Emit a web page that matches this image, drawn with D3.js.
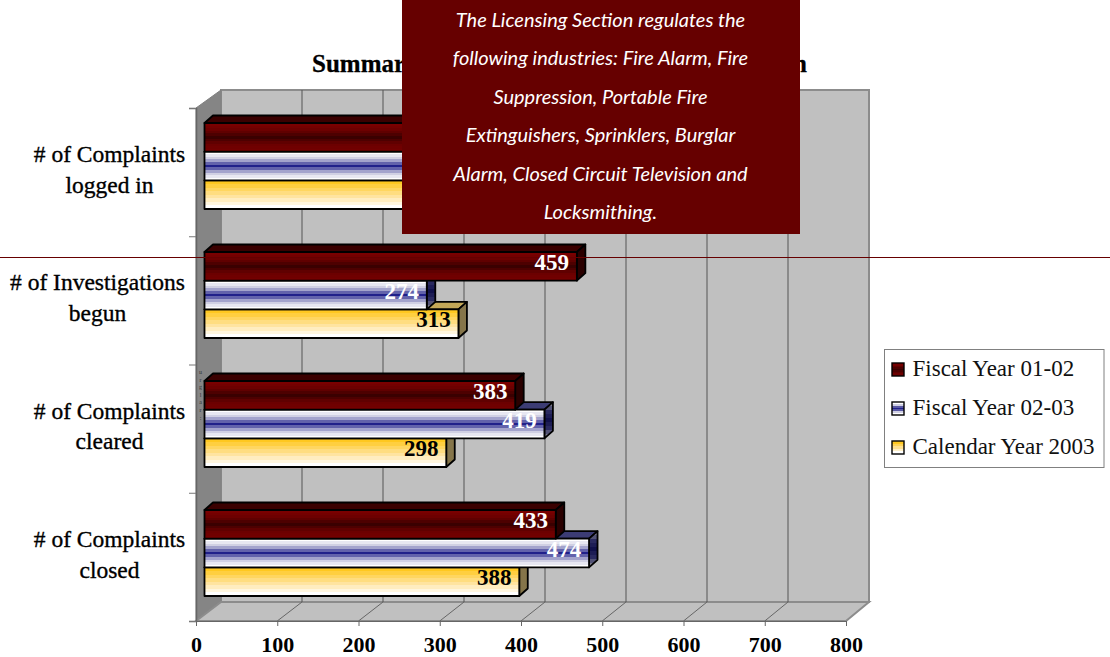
<!DOCTYPE html>
<html><head><meta charset="utf-8">
<script src="https://cdnjs.cloudflare.com/ajax/libs/d3/7.8.5/d3.min.js"></script>
<style>html,body{margin:0;padding:0;background:#fff}svg{display:block}</style>
</head><body><svg id="c" width="1110" height="657"></svg>
<script>
const categories = [["# of Complaints","logged in"],["# of Investigations","begun"],["# of Complaints","cleared"],["# of Complaints","closed"]];
const seriesNames = ["Fiscal Year 01-02","Fiscal Year 02-03","Calendar Year 2003"];
// The first category's bars end behind the text box; those three values are estimates.
const fy0102 = [560, 459, 383, 433];
const fy0203 = [520, 274, 419, 474];
const cy2003 = [480, 313, 298, 388];
const labelsVisible = [false, true, true, true];
const xTicks = [0,100,200,300,400,500,600,700,800];
const boxLines = ["The Licensing Section regulates the","following industries: Fire Alarm, Fire","Suppression, Portable Fire","Extinguishers, Sprinklers, Burglar","Alarm, Closed Circuit Television and","Locksmithing."];
const sideLetters = ["u","r","g","l","a","r",":"];
// Only the two ends of the title show; the box hides the rest.
const titleStart = "Summar";
const titleEnd = "n";

const seriesValues = [fy0102, fy0203, cy2003];
const svg = d3.select("#c");
const defs = svg.append("defs");
const SERIF = "'Liberation Serif','Times New Roman',serif";

// plot geometry
const depthX = 25, depthY = 19, front = {l:196, r:846, t:108, b:621};
const xFront = d3.scaleLinear().domain([0,800]).range([front.l, front.r]);
const xBack = d3.scaleLinear().domain([0,800]).range([front.l+depthX, front.r+depthX-2]);
const xBar = d3.scaleLinear().domain([0,800]).range([204.5, 853.5]);
const yCat = d3.scaleBand().domain(d3.range(4)).range([front.t, front.b]);
const yBand = d3.scaleBand().domain(d3.range(4)).range([108, 624]);
const ySer = d3.scaleBand().domain(d3.range(3)).range([15, 101]);
const barDX = 8.5, barDY = 7.5;

function bandGrad(id, colors, n){
  const g = defs.append("linearGradient").attr("id",id).attr("x1",0).attr("y1",0).attr("x2",0).attr("y2",1);
  const interp = d3.piecewise(d3.interpolateRgb, colors);
  for(let i=0;i<n;i++){
    const c = interp(i/(n-1));
    g.append("stop").attr("offset",i/n).attr("stop-color",c);
    g.append("stop").attr("offset",(i+1)/n).attr("stop-color",c);
  }
}
bandGrad("g0",["#7a0000","#6a0000","#3a0000","#6a0000","#740000"],11);
bandGrad("g1",["#ffffff","#c4c4dc","#20208a","#c4c4dc","#ffffff"],11);
bandGrad("g2",["#ffc820","#ffe090","#ffffff"],8);
bandGrad("s1",["#7a7a8a","#2a2a60","#10104a","#2a2a60","#7a7a8a"],9);
bandGrad("l0",["#8a0000","#600000","#3a0000","#600000","#7a0000"],9);
bandGrad("l1",["#ffffff","#d0d0e4","#5a5aa4","#20208a","#5a5aa4","#d0d0e4","#ffffff"],7);
bandGrad("l2",["#ffc820","#ffe090","#ffffff"],5);
const frontFill = ["url(#g0)","url(#g1)","url(#g2)"];
const topFill = ["#3a0000","#3c3c74","#c4a858"];
const sideFill = ["#2a0000","url(#s1)","#85754a"];
const legendFill = ["url(#l0)","url(#l1)","url(#l2)"];
const labelFill = ["#fff","#fff","#000"];

// walls
const wallStroke = "#8c8c8c";
svg.append("path").attr("fill","#c0c0c0").attr("stroke",wallStroke).attr("stroke-width",2)
  .attr("d",`M${xBack(0)},90H${xBack(800)}V602H${xBack(0)}Z`);
svg.append("path").attr("fill","#858585").attr("stroke","#808080")
  .attr("d",`M${xFront(0)},${front.t}L${xBack(0)},90V602L${xFront(0)},${front.b}Z`);
svg.append("path").attr("fill","#c0c0c0").attr("stroke",wallStroke).attr("stroke-width",2)
  .attr("d",`M${xFront(0)},${front.b}L${xBack(0)},602H${xBack(800)}L${xFront(800)},${front.b}Z`);

// gridlines
svg.append("g").selectAll("line").data(xTicks.slice(1,-1)).join("line")
  .attr("x1",d=>xBack(d)).attr("x2",d=>xBack(d)).attr("y1",90).attr("y2",602)
  .attr("stroke","#555").attr("stroke-width",1);
svg.append("g").selectAll("line").data(xTicks.slice(1,-1)).join("line")
  .attr("x1",d=>xBack(d)).attr("x2",d=>xFront(d)).attr("y1",602).attr("y2",front.b)
  .attr("stroke","#666").attr("stroke-width",1);

// stacked tiny letters on the side wall
svg.append("g").selectAll("text").data(sideLetters).join("text")
  .attr("x",200.5).attr("y",(d,i)=>374+i*7.6).attr("text-anchor","middle")
  .attr("font-family",SERIF).attr("font-size",6).attr("fill","#333").text(d=>d);

// axes
const axisB = svg.append("g").attr("transform",`translate(0,${front.b})`)
  .call(d3.axisBottom(xFront).tickValues(xTicks).tickSize(5).tickPadding(10).tickFormat(d3.format("d")));
axisB.select(".domain").attr("stroke","#666");
axisB.selectAll(".tick line").attr("stroke","#666");
axisB.selectAll("text").attr("font-family",SERIF).attr("font-weight","bold").attr("font-size",22).attr("fill","#000");

const axisL = svg.append("g").attr("transform",`translate(${front.l},0)`)
  .call(d3.axisLeft(d3.scaleLinear().domain([0,4]).range([front.b,front.t])).ticks(4).tickSize(7).tickFormat(""));
axisL.select(".domain").attr("stroke","#666").attr("stroke-width",1.5);
axisL.selectAll(".tick line").attr("stroke","#777");

// category labels
const catG = svg.append("g").selectAll("g").data(categories).join("g");
catG.each(function(lines,i){
  const cy = yCat(i)+yCat.bandwidth()/2;
  const w = i===1 ? 97.5 : 109.5;
  d3.select(this).selectAll("text").data(lines).join("text")
    .attr("x",w).attr("y",(d,k)=>cy-10+k*30.8)
    .attr("text-anchor","middle").attr("font-family",SERIF).attr("font-size",23.5)
    .attr("fill","#000").attr("stroke","#000").attr("stroke-width",0.35).text(d=>d);
});

// bars
const bars = svg.append("g");
categories.forEach((_,ci)=>{
  const g = bars.append("g").attr("transform",`translate(0,${yBand(ci)})`);
  [2,1,0].forEach(si=>{
    const v = seriesValues[si][ci];
    const x0 = xBar(0), x1 = xBar(v), y0 = ySer(si), y1 = y0+ySer.bandwidth();
    const st = sel => sel.attr("stroke","#000").attr("stroke-width",1.8).attr("stroke-linejoin","round");
    g.append("path").attr("fill",topFill[si]).call(st)
      .attr("d",`M${x0},${y0}L${x0+barDX},${y0-barDY}H${x1+barDX}L${x1},${y0}Z`);
    g.append("path").attr("fill",sideFill[si]).call(st)
      .attr("d",`M${x1},${y0}L${x1+barDX},${y0-barDY}V${y1-barDY}L${x1},${y1}Z`);
    g.append("rect").attr("fill",frontFill[si]).call(st)
      .attr("x",x0).attr("y",y0).attr("width",x1-x0).attr("height",y1-y0);
  });
});

// title
const titleAttrs = sel => sel.attr("y",72).attr("font-family",SERIF).attr("font-weight","bold")
  .attr("font-size",25).attr("fill","#000").attr("stroke","#000").attr("stroke-width",0.3);
svg.append("text").attr("x",312).call(titleAttrs).text(titleStart);
svg.append("text").attr("x",807).attr("text-anchor","end").call(titleAttrs).text(titleEnd);

// overlay line
svg.append("line").attr("x1",0).attr("x2",1110).attr("y1",257.5).attr("y2",257.5).attr("stroke","#660000").attr("stroke-width",1);

// value labels
const labels = svg.append("g");
categories.forEach((_,ci)=>{
  if(!labelsVisible[ci]) return;
  seriesValues.forEach((vals,si)=>{
    labels.append("text").attr("x",xBar(vals[ci])-25)
      .attr("y",yBand(ci)+ySer(si)+ySer.bandwidth()/2+3.5)
      .attr("text-anchor","middle").attr("font-family",SERIF).attr("font-weight","bold").attr("font-size",23)
      .attr("fill",labelFill[si]).text(vals[ci]);
  });
});

// legend
const lg = svg.append("g").attr("transform","translate(884.5,349.5)");
lg.append("rect").attr("width",219.5).attr("height",118).attr("fill","#fff").attr("stroke","#808080").attr("stroke-width",1);
const ly = d3.scalePoint().domain(d3.range(3)).range([19.5,97.5]);
seriesNames.forEach((n,i)=>{
  lg.append("rect").attr("x",7.5).attr("y",ly(i)-6).attr("width",12).attr("height",13)
    .attr("fill",legendFill[i]).attr("stroke","#000").attr("stroke-width",1.4);
  lg.append("text").attr("x",28).attr("y",ly(i)+7).attr("font-family",SERIF).attr("font-size",23).attr("fill","#111").text(n);
});

// text box
const box = svg.append("g");
box.append("rect").attr("x",402).attr("y",0).attr("width",398).attr("height",234).attr("fill","#660000");
const boxY = d3.scalePoint().domain(d3.range(boxLines.length)).range([27,219]);
box.selectAll("text").data(boxLines).join("text")
  .attr("x",600.5).attr("y",(d,i)=>boxY(i)).attr("text-anchor","middle")
  .attr("font-family","Lato,'Open Sans',sans-serif").attr("font-style","italic").attr("font-size",20)
  .attr("fill","#fff").text(d=>d);
</script></body></html>
